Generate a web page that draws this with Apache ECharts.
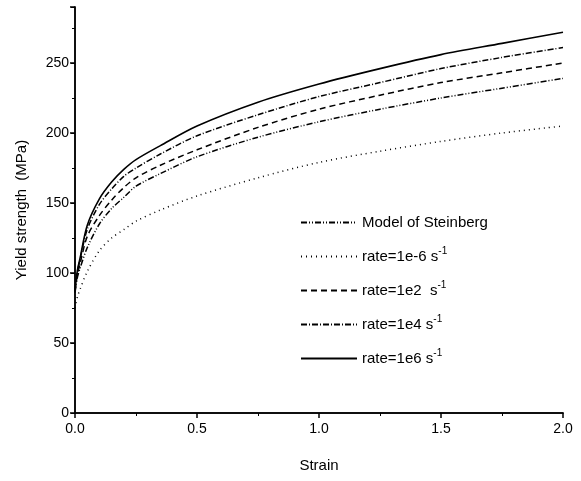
<!DOCTYPE html>
<html>
<head>
<meta charset="utf-8">
<script src="https://cdn.jsdelivr.net/npm/echarts@6/dist/echarts.min.js"></script>
<style>
  html, body { margin: 0; padding: 0; background: #fff; }
  #chart { width: 581px; height: 481px; }
</style>
</head>
<body>
<div id="chart"></div>
<script>
// strain points
const strain = [0, 0.01, 0.02, 0.05, 0.1, 0.15, 0.2, 0.25, 0.35, 0.5, 0.75, 1.0, 1.25, 1.5, 1.75, 2.0]

const steinberg = [86, 97, 103, 118, 135, 146, 154, 162, 171, 183, 197, 208, 217, 225, 232, 239]
const rateM6 = [75, 83, 88, 101, 116, 125, 131, 137, 145, 155, 168, 179, 187, 194, 200, 205]
const rate2 = [87, 99, 106, 126, 141, 152, 161, 168, 177, 188, 204, 217, 227, 236, 243, 250]
const rate4 = [88, 101, 109, 131, 149, 160, 169, 175, 185, 198, 213, 226, 236, 246, 254, 261]
const rate6 = [88, 102, 110, 134, 153, 165, 174, 181, 191, 205, 222, 235, 246, 256, 264, 272]

const seriesNames = ['Model of Steinberg', 'rate=1e-6 s', 'rate=1e2  s', 'rate=1e4 s', 'rate=1e6 s']
const seriesValues = [steinberg, rateM6, rate2, rate4, rate6]
const dashTypes = [[6, 2, 1, 2, 1, 2], [1, 4], [6, 4], [6, 2, 1, 2], 'solid']

const xTicks = ['0.0', '0.5', '1.0', '1.5', '2.0']

const font = 'Liberation Sans, Arial, sans-serif'
const chart = echarts.init(document.getElementById('chart'))

const option = {
  animation: false,
  grid: { left: 75, right: 18, top: 7, bottom: 68 },
  legend: {
    orient: 'vertical',
    left: 295,
    top: 210,
    itemWidth: 56,
    itemHeight: 14,
    itemGap: 16.5,
    data: seriesNames,
    itemStyle: { opacity: 0 },
    formatter: name => name.startsWith('rate') ? name + '{sup|-1}' : name,
    textStyle: {
      fontFamily: font,
      fontSize: 15,
      color: '#000',
      rich: {
        sup: { fontSize: 10, verticalAlign: 'top', padding: [0, 0, 10, 0], fontFamily: font, color: '#000' }
      }
    }
  },
  xAxis: [
    {
      type: 'value',
      min: 0,
      max: 2,
      interval: 0.5,
      name: 'Strain',
      nameLocation: 'middle',
      nameGap: 45,
      nameTextStyle: { fontFamily: font, fontSize: 15, color: '#000' },
      axisLine: { lineStyle: { color: '#000', width: 1.5 } },
      axisTick: { inside: false, length: 5, lineStyle: { color: '#000', width: 1.5 } },
      minorTick: { show: true, splitNumber: 2, length: 3, lineStyle: { color: '#000' } },
      axisLabel: {
        fontFamily: font, fontSize: 14, color: '#000', margin: 9,
        formatter: v => xTicks[Math.round(v / 0.5)]
      },
      splitLine: { show: false }
    },
    {
      type: 'value',
      position: 'top',
      min: 0,
      max: 2,
      interval: 0.5,
      axisLine: { lineStyle: { color: '#000', width: 1.5 } },
      axisTick: { show: false },
      axisLabel: { show: false },
      splitLine: { show: false }
    }
  ],
  yAxis: [
    {
      type: 'value',
      min: 0,
      max: 290,
      interval: 50,
      name: 'Yield strength  (MPa)',
      nameLocation: 'middle',
      nameGap: 46,
      nameTextStyle: { fontFamily: font, fontSize: 15, color: '#000' },
      axisLine: { show: true, lineStyle: { color: '#000', width: 1.5 } },
      axisTick: { show: true, length: 5, lineStyle: { color: '#000', width: 1.5 } },
      minorTick: { show: true, splitNumber: 2, length: 3, lineStyle: { color: '#000' } },
      axisLabel: { fontFamily: font, fontSize: 14, color: '#000', margin: 6, showMaxLabel: false },
      splitLine: { show: false }
    },
    {
      type: 'value',
      position: 'right',
      min: 0,
      max: 290,
      interval: 50,
      axisLine: { show: true, lineStyle: { color: '#000', width: 1.5 } },
      axisTick: { show: true, inside: true, length: 4, lineStyle: { color: '#000' } },
      minorTick: { show: true, splitNumber: 2, length: 3, lineStyle: { color: '#000' } },
      axisLabel: { show: false },
      splitLine: { show: false }
    }
  ],
  series: seriesNames.map((name, i) => ({
    name: name,
    type: 'line',
    smooth: 0.3,
    symbol: 'none',
    data: strain.map((s, j) => [s, seriesValues[i][j]]),
    lineStyle: { color: '#000', width: i === 4 ? 1.6 : 1.5, type: dashTypes[i] },
    itemStyle: { color: '#000' }
  }))
}

chart.setOption(option)
</script>
</body>
</html>
